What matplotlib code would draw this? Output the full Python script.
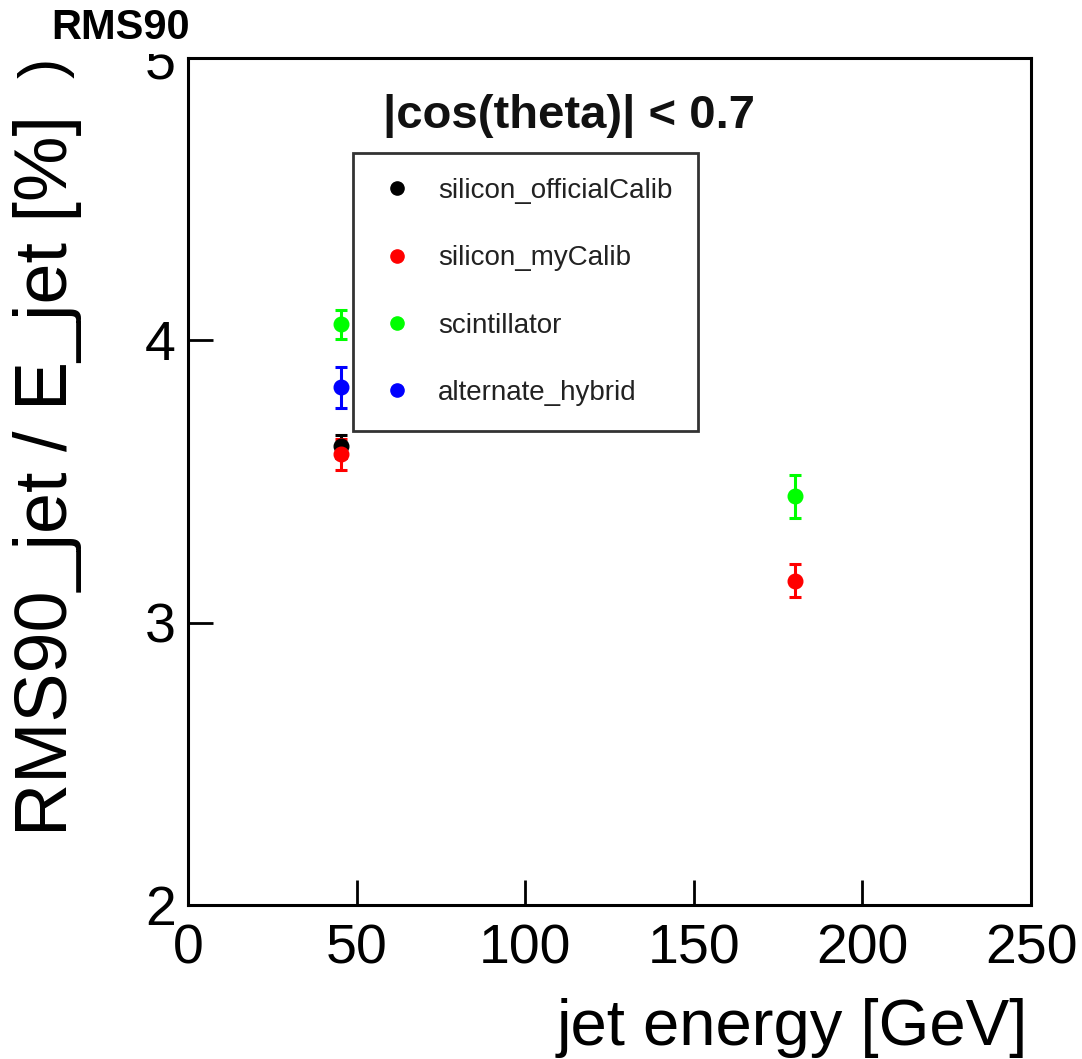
import numpy as np
import matplotlib.pyplot as plt
from matplotlib.lines import Line2D
from matplotlib.patches import Rectangle

plt.rcParams['font.family'] = ['Liberation Sans', 'DejaVu Sans']

# jet resolution points, one entry per detector option
series_names = ["silicon_officialCalib", "silicon_myCalib", "scintillator", "alternate_hybrid"]
series_colors = ["black", "#ff0000", "#00ff00", "#0000ff"]
energy = [
    [45.5],
    [45.5, 180.0],
    [45.5, 180.0],
    [45.5],
]
rms90 = [
    [3.625],
    [3.596, 3.149],
    [4.057, 3.447],
    [3.833],
]
rms90_err = [
    [0.04],
    [0.055, 0.058],
    [0.052, 0.076],
    [0.073],
]

x_ticks = [0, 50, 100, 150, 200, 250]
y_ticks = [2, 3, 4, 5]

W, H = 1082, 1059
fig = plt.figure(figsize=(W / 100, H / 100), dpi=100)
ax = fig.add_axes([188 / W, 1 - 905 / H, (1031 - 188) / W, (905 - 58) / H])

for name, col, x, y, e in zip(series_names, series_colors, energy, rms90, rms90_err):
    ax.errorbar(x, y, yerr=e, fmt='o', color=col, ecolor=col, markersize=10.5,
                elinewidth=2.2, capsize=4, capthick=2.2, label=name)

ax.set_xlim(0, 250)
ax.set_ylim(2, 5)
ax.set_xticks(x_ticks)
ax.set_yticks(y_ticks)
ax.tick_params(axis='both', direction='in', length=18, width=2, labelsize=40,
               top=False, right=False)
ax.tick_params(axis='x', pad=13)
ax.tick_params(axis='y', pad=9)
for sp in ax.spines.values():
    sp.set_linewidth(2.2)

# legend shows plain dots, no error bars
handles = [Line2D([], [], linestyle='none', marker='o', markersize=9.5,
                  color=c) for c in series_colors]
leg = ax.legend(handles, series_names, loc='upper left',
                bbox_to_anchor=(353 / W, 1 - 153 / H),
                bbox_transform=fig.transFigure, fontsize=20, frameon=True,
                fancybox=False, edgecolor='black', borderpad=0.9,
                labelspacing=1.49, handletextpad=0.8, handlelength=1.37,
                borderaxespad=0)
leg.get_frame().set_linewidth(2)
for t in leg.get_texts():
    t.set_color('#222222')

fig.text(569 / W, 1 - 116 / H, "|cos(theta)| < 0.7", fontsize=34,
         fontweight='bold', ha='center', va='center', color='#111111')

fig.text(1028 / W, 1 - 1045 / H, "jet energy [GeV]", fontsize=47,
         ha='right', va='baseline')
fig.text(48 / W, 1 - 115 / H, "RMS90_jet / E_jet [%]", fontsize=53,
         rotation=90, ha='center', va='top')
fig.text(46 / W, 1 - 68 / H, ")", fontsize=44, rotation=90,
         ha='center', va='center')

# title pad in the corner, drawn over the top of the "5" label
fig.patches.append(Rectangle((0, 1 - 54 / H), 186 / W, 54 / H,
                             transform=fig.transFigure, facecolor='white',
                             edgecolor='none', zorder=5))
fig.text(121 / W, 1 - 28 / H, "RMS90", fontsize=30, fontweight='bold',
         ha='center', va='center', zorder=6)

fig.savefig("out.png", dpi=100)
